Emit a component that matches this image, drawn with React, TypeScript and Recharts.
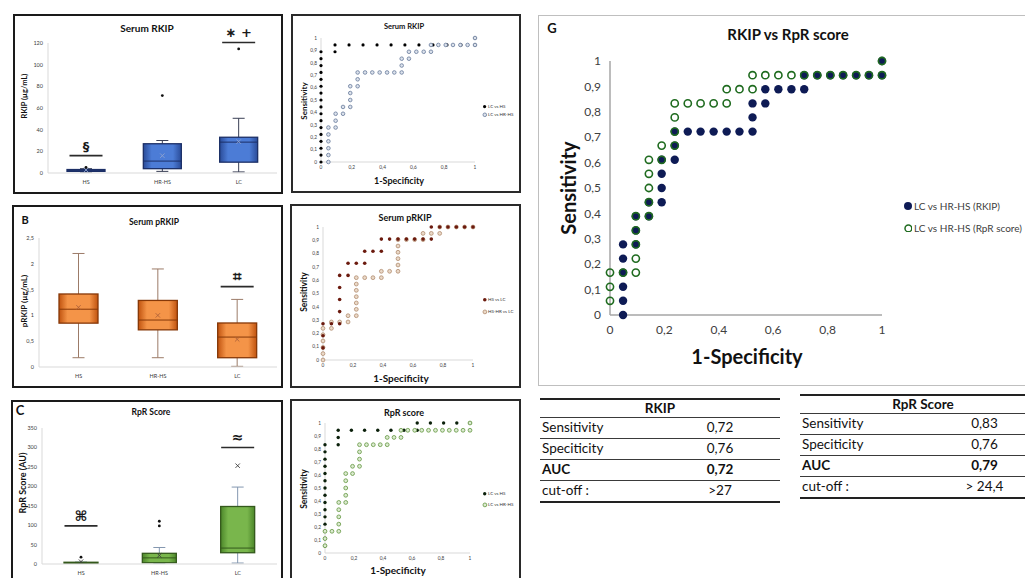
import React from 'react';
import { ComposedChart, Bar, XAxis, YAxis, ScatterChart, Scatter } from 'recharts';

const FONT = 'Lato, "Open Sans", "DejaVu Sans", sans-serif';

// ---------------- Box plot data ----------------
const groups = ['HS', 'HR-HS', 'LC'];

const rkipMin = [1, 1.5, 1];
const rkipQ1 = [1.5, 4, 10];
const rkipMedian = [2.2, 11, 28.5];
const rkipQ3 = [3.2, 27, 33];
const rkipMax = [4, 30, 50.5];
const rkipMean = [2.8, 16, 29];
const rkipOutliers = [[5.2], [71.5], [114.5]];
const rkipSigValue = [16, null, 120.5];
const rkipSigText = ['§', '', '∗ +'];
const rkipTicks = [0, 20, 40, 60, 80, 100, 120];

const prkipMin = [0.18, 0.18, 0.013];
const prkipQ1 = [0.85, 0.72, 0.18];
const prkipMedian = [1.12, 0.91, 0.58];
const prkipQ3 = [1.415, 1.29, 0.853];
const prkipMax = [2.2, 1.9, 1.31];
const prkipMean = [1.156, 1.0, 0.536];
const prkipOutliers = [[], [], []];
const prkipSigValue = [null, null, 1.557];
const prkipSigText = ['', '', '⌗'];
const prkipTicks = [0, 0.5, 1, 1.5, 2, 2.5];

const rprMin = [1.5, 2.5, 2.5];
const rprQ1 = [2, 3.3, 29];
const rprMedian = [3, 15.8, 41];
const rprQ3 = [4.5, 27.5, 148];
const rprMax = [5, 42.5, 198];
const rprMean = [6, 22, 253];
const rprOutliers = [[17.5], [98, 110], []];
const rprSigValue = [98, null, 300];
const rprSigText = ['⌘', '', '≈'];
const rprTicks = [0, 50, 100, 150, 200, 250, 300, 350];

// ---------------- ROC data (1-specificity, sensitivity) ----------------
const rkipLcVsHs: [number, number][] = [
  [0, 0], [0, 0.056], [0, 0.111], [0, 0.167], [0, 0.222], [0, 0.278], [0, 0.333], [0, 0.389], [0, 0.444],
  [0, 0.5], [0, 0.556], [0, 0.611], [0, 0.667], [0, 0.722], [0, 0.778], [0, 0.833], [0, 0.889],
  [0.091, 0.889], [0.091, 0.944], [0.182, 0.944], [0.273, 0.944], [0.364, 0.944], [0.455, 0.944],
  [0.545, 0.944], [0.636, 0.944], [0.727, 0.944], [0.818, 0.944], [0.909, 0.944], [1, 0.944], [1, 1],
];
const rkipLcVsHrhs: [number, number][] = [
  [0.048, 0], [0.048, 0.056], [0.048, 0.111], [0.048, 0.167], [0.048, 0.222], [0.048, 0.278],
  [0.095, 0.278], [0.095, 0.333], [0.095, 0.389], [0.143, 0.389], [0.143, 0.444],
  [0.19, 0.444], [0.19, 0.5], [0.19, 0.556], [0.19, 0.611], [0.238, 0.611], [0.238, 0.667], [0.238, 0.722],
  [0.286, 0.722], [0.333, 0.722], [0.381, 0.722], [0.429, 0.722], [0.476, 0.722], [0.524, 0.722],
  [0.524, 0.778], [0.524, 0.833], [0.571, 0.833], [0.571, 0.889], [0.619, 0.889], [0.667, 0.889],
  [0.714, 0.889], [0.714, 0.944], [0.762, 0.944], [0.81, 0.944], [0.857, 0.944], [0.905, 0.944],
  [0.952, 0.944], [1, 0.944], [1, 1],
];
const prkipHsVsLc: [number, number][] = [
  [0, 0.091], [0, 0.182], [0, 0.273], [0.056, 0.273], [0.111, 0.273], [0.111, 0.364], [0.111, 0.455],
  [0.111, 0.545], [0.111, 0.636], [0.167, 0.636], [0.167, 0.727], [0.222, 0.727], [0.278, 0.727],
  [0.278, 0.818], [0.333, 0.818], [0.389, 0.818], [0.389, 0.909], [0.444, 0.909], [0.5, 0.909],
  [0.556, 0.909], [0.611, 0.909], [0.667, 0.909], [0.722, 0.909], [0.722, 1], [0.778, 1], [0.833, 1],
  [0.889, 1], [0.944, 1], [1, 1],
];
const prkipHshrVsLc: [number, number][] = [
  [0, 0], [0, 0.048], [0, 0.095], [0, 0.143], [0, 0.19], [0, 0.238], [0.056, 0.238], [0.056, 0.286],
  [0.111, 0.286], [0.167, 0.286], [0.167, 0.333], [0.222, 0.333], [0.222, 0.381], [0.222, 0.429],
  [0.222, 0.476], [0.222, 0.524], [0.222, 0.571], [0.222, 0.619], [0.278, 0.619], [0.333, 0.619],
  [0.389, 0.619], [0.389, 0.667], [0.444, 0.667], [0.5, 0.667], [0.5, 0.714], [0.5, 0.762], [0.5, 0.81],
  [0.5, 0.857], [0.5, 0.905], [0.556, 0.905], [0.611, 0.905], [0.667, 0.905], [0.667, 0.952],
  [0.722, 0.952], [0.778, 0.952], [0.778, 1], [0.833, 1], [0.889, 1], [0.944, 1], [1, 1],
];
const rprLcVsHs: [number, number][] = [
  [0, 0.056], [0, 0.111], [0, 0.167], [0, 0.222], [0, 0.278], [0, 0.333], [0, 0.389], [0, 0.444],
  [0, 0.5], [0, 0.556], [0, 0.611], [0, 0.667], [0, 0.722], [0, 0.778], [0, 0.833],
  [0.091, 0.833], [0.091, 0.889], [0.091, 0.944], [0.182, 0.944], [0.273, 0.944], [0.364, 0.944],
  [0.455, 0.944], [0.545, 0.944], [0.636, 0.944], [0.636, 1], [0.727, 1], [0.818, 1], [0.909, 1], [1, 1],
];
const rprLcVsHrhs: [number, number][] = [
  [0, 0.056], [0, 0.111], [0, 0.167], [0.048, 0.167], [0.095, 0.167], [0.095, 0.222], [0.095, 0.278],
  [0.095, 0.333], [0.095, 0.389], [0.143, 0.389], [0.143, 0.444], [0.143, 0.5], [0.143, 0.556],
  [0.143, 0.611], [0.19, 0.611], [0.19, 0.667], [0.238, 0.667], [0.238, 0.722], [0.238, 0.778],
  [0.238, 0.833], [0.286, 0.833], [0.333, 0.833], [0.381, 0.833], [0.429, 0.833], [0.429, 0.889],
  [0.476, 0.889], [0.524, 0.889], [0.524, 0.944], [0.571, 0.944], [0.619, 0.944], [0.667, 0.944],
  [0.714, 0.944], [0.762, 0.944], [0.81, 0.944], [0.857, 0.944], [0.905, 0.944], [0.952, 0.944],
  [1, 0.944], [1, 1],
];
const rocXTicks = [0, 0.2, 0.4, 0.6, 0.8, 1];
const rocYTicks = [0, 0.1, 0.2, 0.3, 0.4, 0.5, 0.6, 0.7, 0.8, 0.9, 1];

// ---------------- Tables ----------------
const tableRowLabels = ['Sensitivity', 'Speciticity', 'AUC', 'cut-off :'];
const rkipTableValues = ['0,72', '0,76', '0,72', '>27'];
const rprTableValues = ['0,83', '0,76', '0,79', '> 24,4'];

// ---------------- helpers ----------------
const fmt = (v: number) =>
  v === 0 ? '0' : String(Number(v.toFixed(1))).replace('.', ',');

const toXY = (arr: [number, number][]) => arr.map(([x, y]) => ({ x, y }));

function buildRows(min: number[], q1: number[], med: number[], q3: number[], max: number[], mean: number[],
  outl: number[][], sig: (number | null)[], sigText: string[]) {
  return groups.map((g, i) => ({
    cat: g, range: [min[i], max[i]], min: min[i], q1: q1[i], median: med[i], q3: q3[i], max: max[i],
    mean: mean[i], outliers: outl[i], sig: sig[i], sigText: sigText[i],
  }));
}

const rkipRows = buildRows(rkipMin, rkipQ1, rkipMedian, rkipQ3, rkipMax, rkipMean, rkipOutliers, rkipSigValue, rkipSigText);
const prkipRows = buildRows(prkipMin, prkipQ1, prkipMedian, prkipQ3, prkipMax, prkipMean, prkipOutliers, prkipSigValue, prkipSigText);
const rprRows = buildRows(rprMin, rprQ1, rprMedian, rprQ3, rprMax, rprMean, rprOutliers, rprSigValue, rprSigText);

type Theme = { id: string; edge: string; mid: string; border: string; whisker: string; mean: string; cap: number; sigSize: number };

const themeA: Theme = { id: 'gA', edge: '#2A4B98', mid: '#4C7CD6', border: '#1C2F66', whisker: '#3A3F55', mean: '#8EA3CF', cap: 12, sigSize: 13 };
const themeB: Theme = { id: 'gB', edge: '#C0530F', mid: '#F49448', border: '#863808', whisker: '#9C7B68', mean: '#B0623A', cap: 12, sigSize: 15 };
const themeC: Theme = { id: 'gC', edge: '#4C862A', mid: '#79B64C', border: '#34591C', whisker: '#8497B0', mean: '#404040', cap: 12, sigSize: 14 };

function makeBoxShape(theme: Theme) {
  return (props: any) => {
    const { x, y, width, height, payload, index } = props;
    if (!payload || x == null) return <g />;
    const a = Math.min(y, y + height);
    const b = Math.max(y, y + height);
    const span = payload.max - payload.min;
    const p = (v: number) => b - ((b - a) * (v - payload.min)) / span;
    const cx = x + width / 2;
    const bw = width;
    const gid = `${theme.id}-${index}`;
    const yq3 = p(payload.q3);
    const yq1 = p(payload.q1);
    const ym = p(payload.mean);
    return (
      <g>
        <defs>
          <linearGradient id={gid} x1="0" y1="0" x2="1" y2="0">
            <stop offset="0" stopColor={theme.edge} />
            <stop offset="0.22" stopColor={theme.mid} />
            <stop offset="0.78" stopColor={theme.mid} />
            <stop offset="1" stopColor={theme.edge} />
          </linearGradient>
        </defs>
        <line x1={cx} x2={cx} y1={p(payload.max)} y2={yq3} stroke={theme.whisker} strokeWidth={1} />
        <line x1={cx} x2={cx} y1={yq1} y2={p(payload.min)} stroke={theme.whisker} strokeWidth={1} />
        <line x1={cx - theme.cap / 2} x2={cx + theme.cap / 2} y1={p(payload.max)} y2={p(payload.max)} stroke={theme.whisker} strokeWidth={1} />
        <line x1={cx - theme.cap / 2} x2={cx + theme.cap / 2} y1={p(payload.min)} y2={p(payload.min)} stroke={theme.whisker} strokeWidth={1} />
        <rect x={cx - bw / 2} y={yq3} width={bw} height={Math.max(1, yq1 - yq3)} fill={`url(#${gid})`} stroke={theme.border} strokeWidth={1.3} />
        <line x1={cx - bw / 2} x2={cx + bw / 2} y1={p(payload.median)} y2={p(payload.median)} stroke={theme.border} strokeWidth={1} />
        <line x1={cx - 2.2} x2={cx + 2.2} y1={ym - 2.2} y2={ym + 2.2} stroke={theme.mean} strokeWidth={0.9} />
        <line x1={cx - 2.2} x2={cx + 2.2} y1={ym + 2.2} y2={ym - 2.2} stroke={theme.mean} strokeWidth={0.9} />
        {payload.outliers.map((o: number, k: number) => (
          <circle key={k} cx={cx} cy={p(o)} r={1.4} fill="#111" />
        ))}
        {payload.sig != null && (
          <g>
            <line x1={cx - 16.5} x2={cx + 16.5} y1={p(payload.sig)} y2={p(payload.sig)} stroke="#2B2B2B" strokeWidth={1.6} />
            <text x={cx} y={p(payload.sig) - 5} textAnchor="middle" fontSize={theme.sigSize} fontWeight={700}
              fill="#1A1A1A" fontFamily='"DejaVu Sans", Lato, sans-serif'>{payload.sigText}</text>
          </g>
        )}
      </g>
    );
  };
}

function BoxPlotChart(props: {
  left: number; top: number; width: number; height: number;
  margin: { top: number; right: number; bottom: number; left: number };
  yWidth: number; xHeight: number; data: any[]; ticks: number[]; theme: Theme; barSize: number;
}) {
  const { left, top, width, height, margin, yWidth, xHeight, data, ticks, theme, barSize } = props;
  const tickStyle = { fontSize: 5.5, fill: '#404040', fontFamily: FONT };
  return (
    <div style={{ position: 'absolute', left, top }}>
      <ComposedChart width={width} height={height} data={data} margin={margin} style={{ fontFamily: FONT }}>
        <XAxis dataKey="cat" type="category" axisLine={{ stroke: '#D9D9D9' }} tickLine={false}
          tick={tickStyle} height={xHeight} tickSize={5} tickMargin={2} interval={0} />
        <YAxis type="number" domain={[ticks[0], ticks[ticks.length - 1]]} ticks={ticks} width={yWidth}
          axisLine={{ stroke: '#D9D9D9' }} tickLine={false} tick={tickStyle} tickFormatter={fmt}
          interval={0} tickSize={3} tickMargin={2} />
        <Bar dataKey="range" barSize={barSize} isAnimationActive={false} shape={makeBoxShape(theme)} />
      </ComposedChart>
    </div>
  );
}

type SeriesDef = { data: [number, number][]; r: number; fill: string; stroke: string; sw: number };

function RocChart(props: {
  left: number; top: number; width: number; height: number;
  margin: { top: number; right: number; bottom: number; left: number };
  yWidth: number; xHeight: number; series: SeriesDef[]; tickFont: number; axisColor: string;
  axisWidth: number; tickFill: string; ySize: number; yMargin: number; xSize: number; xMargin: number;
}) {
  const p = props;
  const tickStyle = { fontSize: p.tickFont, fill: p.tickFill, fontFamily: FONT };
  return (
    <div style={{ position: 'absolute', left: p.left, top: p.top }}>
      <ScatterChart width={p.width} height={p.height} margin={p.margin} style={{ fontFamily: FONT }}>
        <XAxis type="number" dataKey="x" domain={[0, 1]} ticks={rocXTicks} tickFormatter={fmt} interval={0}
          axisLine={{ stroke: p.axisColor, strokeWidth: p.axisWidth }} tickLine={false} tick={tickStyle}
          height={p.xHeight} tickSize={p.xSize} tickMargin={p.xMargin} />
        <YAxis type="number" dataKey="y" domain={[0, 1]} ticks={rocYTicks} tickFormatter={fmt} interval={0}
          axisLine={{ stroke: p.axisColor, strokeWidth: p.axisWidth }} tickLine={false} tick={tickStyle}
          width={p.yWidth} tickSize={p.ySize} tickMargin={p.yMargin} />
        {p.series.map((s, i) => (
          <Scatter key={i} data={toXY(s.data)} isAnimationActive={false}
            shape={(sp: any) => (
              <circle cx={sp.cx} cy={sp.cy} r={s.r} fill={s.fill} stroke={s.stroke} strokeWidth={s.sw} />
            )} />
        ))}
      </ScatterChart>
    </div>
  );
}

function Txt(props: { x: number; y: number; size: number; bold?: boolean; rotate?: number; color?: string;
  anchor?: 'center' | 'left'; family?: string; children: React.ReactNode }) {
  const { x, y, size, bold, rotate = 0, color = '#111', anchor = 'center', family } = props;
  const tx = anchor === 'center' ? '-50%' : '0';
  return (
    <div style={{
      position: 'absolute', left: x, top: y, transform: `translate(${tx},-50%) rotate(${rotate}deg)`,
      fontSize: size, fontWeight: bold ? 700 : 400, whiteSpace: 'nowrap', fontFamily: family || FONT,
      color, lineHeight: 1,
    }}>{props.children}</div>
  );
}

function Box(props: { left: number; top: number; width: number; height: number; border: string }) {
  return <div style={{ position: 'absolute', left: props.left, top: props.top, width: props.width,
    height: props.height, border: props.border, boxSizing: 'border-box' }} />;
}

function LegendDot(props: { x: number; y: number; r: number; fill: string; stroke: string; sw: number }) {
  const s = props.r * 2 + 2;
  return (
    <svg style={{ position: 'absolute', left: props.x - s / 2, top: props.y - s / 2 }} width={s} height={s}>
      <circle cx={s / 2} cy={s / 2} r={props.r} fill={props.fill} stroke={props.stroke} strokeWidth={props.sw} />
    </svg>
  );
}

function StatTable(props: { left: number; top: number; colW: [number, number]; header: string;
  headerH: number; rowH: number; values: string[] }) {
  const { left, top, colW, header, headerH, rowH, values } = props;
  const cell: React.CSSProperties = { padding: 0, borderBottom: '1px solid #3A3A3A', height: rowH, lineHeight: 1 };
  return (
    <table style={{ position: 'absolute', left, top, borderCollapse: 'collapse', fontFamily: FONT,
      fontSize: 13.5, color: '#111', tableLayout: 'fixed', width: colW[0] + colW[1] }}>
      <tbody>
        <tr>
          <td colSpan={2} style={{ ...cell, height: headerH, borderTop: '2px solid #222', textAlign: 'center',
            fontWeight: 700 }}>{header}</td>
        </tr>
        {tableRowLabels.map((lab, i) => (
          <tr key={lab}>
            <td style={{ ...cell, width: colW[0], paddingLeft: 2, fontWeight: lab === 'AUC' ? 700 : 400,
              borderBottom: i === tableRowLabels.length - 1 ? '2px solid #222' : cell.borderBottom }}>{lab}</td>
            <td style={{ ...cell, width: colW[1], textAlign: 'center', fontWeight: lab === 'AUC' ? 700 : 400,
              borderBottom: i === tableRowLabels.length - 1 ? '2px solid #222' : cell.borderBottom }}>{values[i]}</td>
          </tr>
        ))}
      </tbody>
    </table>
  );
}

const blackDot = { r: 1.6, fill: '#000', stroke: '#000', sw: 0 };
const blueOpen = { r: 1.8, fill: '#DCE2EC', stroke: '#7385A3', sw: 0.9 };
const maroonDot = { r: 1.8, fill: '#6B1A0E', stroke: '#6B1A0E', sw: 0 };
const tanOpen = { r: 1.9, fill: '#EAD9C8', stroke: '#B8957A', sw: 0.9 };
const greenBlack = { r: 1.7, fill: '#0B200B', stroke: '#0B200B', sw: 0 };
const greenOpen = { r: 1.9, fill: '#DDEBD2', stroke: '#6F9F4F', sw: 0.9 };

export default function App() {
  return (
    <div style={{ position: 'absolute', left: 0, top: 0, width: 1025, height: 578, background: '#fff',
      overflow: 'hidden', fontFamily: FONT }}>
      {/* frames */}
      <Box left={13} top={14} width={270} height={180} border="2px solid #1A1A1A" />
      <Box left={291} top={14} width={230} height={179} border="2px solid #2A2A2A" />
      <Box left={12} top={205} width={271} height={183} border="2px solid #1A1A1A" />
      <Box left={290} top={204} width={231} height={184} border="2px solid #2A2A2A" />
      <Box left={11} top={400} width={272} height={200} border="2px solid #1A1A1A" />
      <Box left={290} top={399} width={231} height={200} border="2px solid #2A2A2A" />
      <Box left={538} top={15} width={520} height={371} border="1px solid #BFBFBF" />

      {/* Panel A */}
      <BoxPlotChart left={15} top={16} width={266} height={176}
        margin={{ top: 27, right: 4, bottom: 4, left: 5 }} yWidth={28} xHeight={15}
        data={rkipRows} ticks={rkipTicks} theme={themeA} barSize={38} />
      <Txt x={147} y={28} size={10} bold>Serum RKIP</Txt>
      <Txt x={25} y={96} size={7.5} bold rotate={-90}>RKIP (µg/mL)</Txt>

      {/* Panel B */}
      <BoxPlotChart left={14} top={207} width={267} height={179}
        margin={{ top: 31, right: 4, bottom: 4, left: 5 }} yWidth={20} xHeight={15}
        data={prkipRows} ticks={prkipTicks} theme={themeB} barSize={39} />
      <Txt x={25} y={219} size={11} bold>B</Txt>
      <Txt x={154} y={222} size={8.5} bold>Serum pRKIP</Txt>
      <Txt x={24} y={301} size={8} bold rotate={-90}>pRKIP (µg/mL)</Txt>

      {/* Panel C */}
      <BoxPlotChart left={13} top={402} width={268} height={176}
        margin={{ top: 26, right: 4, bottom: 2, left: 5 }} yWidth={24} xHeight={12}
        data={rprRows} ticks={rprTicks} theme={themeC} barSize={34} />
      <Txt x={20} y={410} size={13} bold>C</Txt>
      <Txt x={151} y={412} size={8.5} bold>RpR Score</Txt>
      <Txt x={22} y={483} size={9} bold rotate={-90}>RpR Score (AU)</Txt>

      {/* ROC A */}
      <RocChart left={293} top={16} width={226} height={175}
        margin={{ top: 22, right: 44, bottom: 19, left: 10 }} yWidth={18} xHeight={10}
        series={[{ data: rkipLcVsHs, ...blackDot }, { data: rkipLcVsHrhs, ...blueOpen }]}
        tickFont={4.8} axisColor="#D9D9D9" axisWidth={1} tickFill="#404040" ySize={2} yMargin={2} xSize={2} xMargin={2} />
      <Txt x={404} y={27} size={7.5} bold>Serum RKIP</Txt>
      <Txt x={304} y={101} size={8} bold rotate={-90}>Sensitivity</Txt>
      <Txt x={399} y={180} size={9} bold>1-Specificity</Txt>
      <LegendDot x={485} y={107} {...blackDot} />
      <Txt x={488} y={107} size={4.5} anchor="left" color="#333">LC vs HS</Txt>
      <LegendDot x={485} y={115} {...blueOpen} />
      <Txt x={488} y={115} size={4.5} anchor="left" color="#333">LC vs HR-HS</Txt>

      {/* ROC B */}
      <RocChart left={292} top={206} width={227} height={180}
        margin={{ top: 21, right: 46, bottom: 16, left: 11 }} yWidth={20} xHeight={10}
        series={[{ data: prkipHshrVsLc, ...tanOpen }, { data: prkipHsVsLc, ...maroonDot }]}
        tickFont={4.8} axisColor="#D9D9D9" axisWidth={1} tickFill="#404040" ySize={2} yMargin={2} xSize={2} xMargin={2} />
      <Txt x={405} y={217} size={9} bold>Serum pRKIP</Txt>
      <Txt x={304} y={292} size={8.5} bold rotate={-90}>Sensitivity</Txt>
      <Txt x={401} y={378} size={10} bold>1-Specificity</Txt>
      <LegendDot x={485} y={300} {...maroonDot} />
      <Txt x={488} y={300} size={4.5} anchor="left" color="#333">HS vs LC</Txt>
      <LegendDot x={485} y={312} {...tanOpen} />
      <Txt x={488} y={312} size={4.5} anchor="left" color="#333">HS-HR vs LC</Txt>

      {/* ROC C */}
      <RocChart left={292} top={401} width={227} height={177}
        margin={{ top: 22, right: 49, bottom: 15, left: 13 }} yWidth={20} xHeight={10}
        series={[{ data: rprLcVsHs, ...greenBlack }, { data: rprLcVsHrhs, ...greenOpen }]}
        tickFont={4.8} axisColor="#D9D9D9" axisWidth={1} tickFill="#404040" ySize={2} yMargin={2} xSize={2} xMargin={2} />
      <Txt x={404} y={412} size={9} bold>RpR score</Txt>
      <Txt x={304} y={489} size={8.5} bold rotate={-90}>Sensitivity</Txt>
      <Txt x={398} y={570} size={10} bold>1-Specificity</Txt>
      <LegendDot x={485} y={494} {...greenBlack} />
      <Txt x={488} y={494} size={4.5} anchor="left" color="#333">LC vs HS</Txt>
      <LegendDot x={485} y={505} {...greenOpen} />
      <Txt x={488} y={505} size={4.5} anchor="left" color="#333">LC vs HR-HS</Txt>

      {/* Panel G */}
      <RocChart left={539} top={16} width={486} height={369}
        margin={{ top: 45, right: 143, bottom: 50, left: 40 }} yWidth={31} xHeight={20}
        series={[
          { data: rkipLcVsHrhs, r: 4.2, fill: '#0E1B55', stroke: '#0E1B55', sw: 0 },
          { data: rprLcVsHrhs, r: 3.6, fill: 'none', stroke: '#1F6B1F', sw: 1.6 },
        ]}
        tickFont={12} axisColor="#A6A6A6" axisWidth={1.5} tickFill="#404040" ySize={5} yMargin={4} xSize={6} xMargin={4} />
      <Txt x={552} y={28} size={13} bold>G</Txt>
      <Txt x={788} y={34} size={15} bold>RKIP vs RpR score</Txt>
      <Txt x={568} y={188} size={20} bold rotate={-90}>Sensitivity</Txt>
      <Txt x={747} y={356} size={20} bold>1-Specificity</Txt>
      <LegendDot x={908} y={206} r={4} fill="#0E1B55" stroke="#0E1B55" sw={0} />
      <Txt x={914} y={206} size={10} anchor="left" color="#404040">LC vs HR-HS (RKIP)</Txt>
      <LegendDot x={908} y={228} r={3.4} fill="none" stroke="#1F6B1F" sw={1.5} />
      <Txt x={914} y={228} size={10} anchor="left" color="#404040">LC vs HR-HS (RpR score)</Txt>

      {/* Tables */}
      <StatTable left={540} top={398} colW={[115, 125]} header="RKIP" headerH={17} rowH={20}
        values={rkipTableValues} />
      <StatTable left={800} top={394} colW={[108, 138]} header="RpR Score" headerH={17} rowH={20}
        values={rprTableValues} />
    </div>
  );
}
